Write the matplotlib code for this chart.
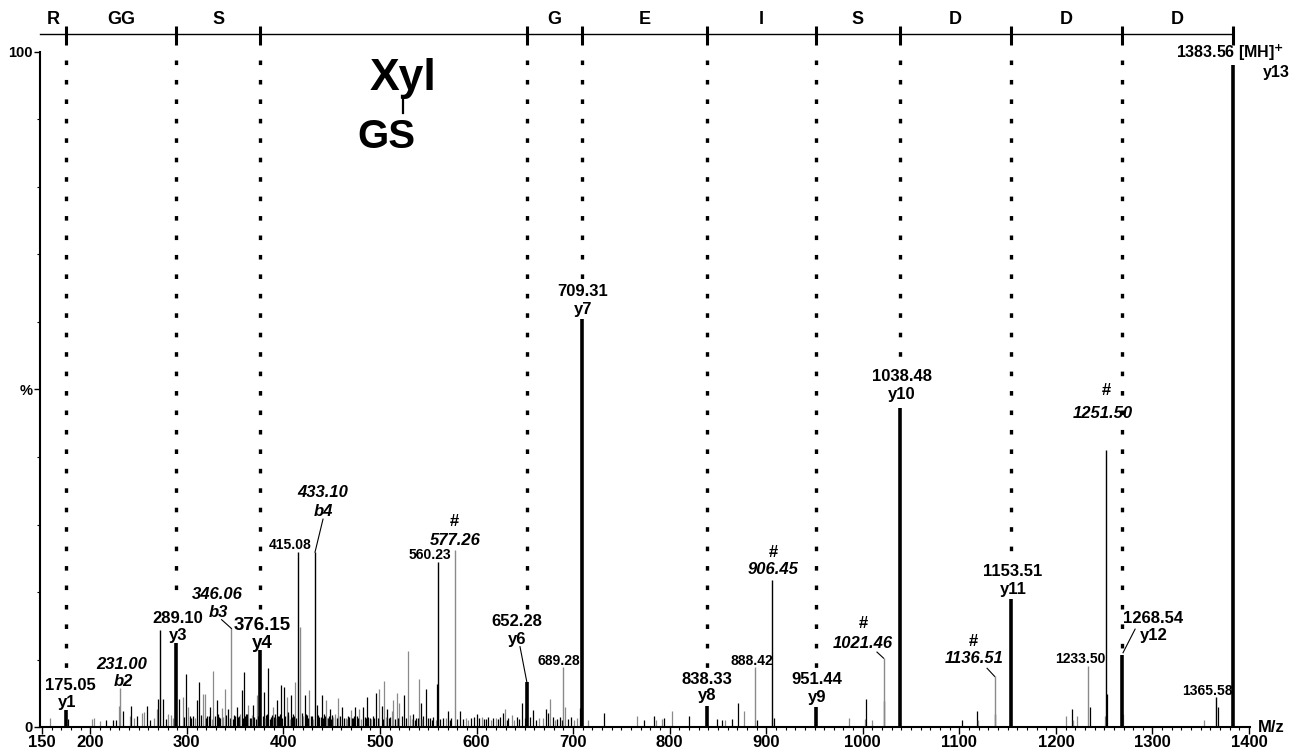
import matplotlib
matplotlib.use('Agg')
import matplotlib.pyplot as plt
from matplotlib.ticker import FixedLocator, MultipleLocator

plt.rcParams['font.family'] = ['Liberation Sans', 'DejaVu Sans']
plt.rcParams['font.weight'] = 'bold'
plt.rcParams['lines.scale_dashes'] = False

# y-ion series (thick bars, sequence boundaries)
ion_mz = [175.05, 289.10, 376.15, 652.28, 709.31, 838.33, 951.44, 1038.48, 1153.51, 1268.54, 1383.56]
ion_int = [2.5, 12.4, 11.4, 6.6, 60.4, 3.1, 3.0, 47.3, 19.0, 10.7, 98.0]
ion_names = ['y1', 'y3', 'y4', 'y6', 'y7', 'y8', 'y9', 'y10', 'y11', 'y12', 'y13']
# where each dotted guide stops (%)
dot_end = [8.6, 20.3, 17.5, 17.3, 66.4, 8.6, 8.6, 54.8, 26.1, 11.4]

residues = ['R', 'GG', 'S', '', 'G', 'E', 'I', 'S', 'D', 'D', 'D']

# other annotated peaks: m/z, intensity, grey?
peak_mz = [231.00, 272.2, 346.06, 415.08, 417.0, 433.10, 560.23, 577.26, 689.28,
           888.42, 906.45, 1021.46, 1136.51, 1233.50, 1251.50, 1365.58]
peak_int = [5.8, 14.3, 14.7, 26.0, 14.8, 25.9, 24.4, 26.2, 8.9,
            8.9, 21.8, 10.2, 7.5, 9.0, 41.0, 4.4]
peak_grey = [1, 0, 1, 0, 1, 0, 0, 1, 1,
             1, 0, 1, 1, 1, 0, 0]

# small background peaks
noise_mz = [158.3, 201.5, 203.9, 216.3, 223.2, 229.7, 234.2, 241.0, 242.5, 248.0,
            253.2, 256.0, 259.0, 268.8, 270.5, 275.6, 280.8, 283.3, 286.0, 292.2,
            295.7, 299.1, 301.5, 304.2, 306.8, 310.2, 312.9, 316.4, 318.8, 321.3,
            324.0, 327.4, 330.9, 333.2, 336.1, 339.5, 342.9, 348.6, 351.6, 354.1,
            356.8, 359.2, 361.5, 363.7, 366.2, 368.8, 372.3, 374.4, 380.0, 382.1,
            384.4, 387.0, 389.6, 391.5, 393.7, 395.4, 397.5, 400.6, 403.4, 405.1,
            407.6, 409.8, 412.0, 419.3, 422.4, 424.2, 426.8, 429.5, 435.0, 437.1,
            439.6, 441.9, 444.1, 446.0, 448.3, 450.0, 453.4, 456.2, 456.9, 461.0,
            464.8, 467.1, 469.7, 472.0, 474.2, 476.3, 478.6, 482.8, 484.5, 486.3,
            489.7, 492.8, 495.9, 499.3, 501.8, 504.2, 507.6, 510.1, 512.2, 513.8,
            517.3, 520.0, 522.6, 524.9, 528.7, 531.1, 534.5, 537.2, 540.7, 542.2,
            545.0, 547.7, 551.8, 555.1, 558.0, 559.4, 565.6, 570.8, 574.0, 582.9,
            586.2, 589.1, 594.3, 597.0, 600.8, 605.4, 609.8, 612.2, 617.0, 620.2,
            624.4, 627.7, 629.5, 633.0, 636.4, 641.6, 646.8, 649.9, 655.4, 658.2,
            665.1, 668.5, 671.9, 674.4, 676.1, 678.9, 683.0, 686.5, 691.6, 697.5,
            704.4, 707.2, 715.8, 732.3, 765.9, 773.9, 784.2, 786.0, 791.7, 794.5,
            802.1, 820.1, 848.7, 853.9, 857.5, 865.0, 871.1, 877.0, 890.5, 905.7,
            908.5, 985.8, 1002.5, 1003.1, 1009.2, 1021.9, 1102.4, 1117.9, 1119.3, 1137.2,
            1210.5, 1216.4, 1217.5, 1222.2, 1235.3, 1250.9, 1253.3, 1269.6, 1353.7, 1367.5,
            1382.0,
            # dense low-level comb
            177.2, 210.4, 226.8, 245.1, 262.3, 265.7, 278.1, 297.4, 303.1, 308.3,
            314.6, 320.2, 322.7, 326.1, 329.0, 332.1, 334.6, 337.8, 341.0, 344.7,
            347.9, 350.3, 353.0, 355.4, 358.0, 360.4, 362.6, 365.1, 367.4, 370.0,
            371.2, 373.5, 378.6, 381.0, 383.3, 385.8, 388.2, 390.6, 392.6, 394.5,
            396.3, 398.8, 401.9, 404.3, 406.3, 408.7, 410.9, 413.3, 420.6, 423.3,
            425.4, 428.1, 430.7, 436.2, 438.4, 440.7, 443.0, 445.1, 447.2, 449.1,
            451.6, 455.0, 458.6, 463.0, 466.0, 468.4, 470.9, 473.1, 477.5, 480.6,
            485.4, 488.0, 491.0, 494.2, 497.6, 503.0, 506.0, 509.0, 515.6, 519.0,
            526.8, 533.0, 536.0, 539.0, 544.0, 549.6, 553.5, 562.0, 568.4, 572.7,
            580.0, 591.6, 603.0, 607.2, 614.8, 622.3, 631.2, 638.9, 644.2, 662.0,
            681.0, 688.0, 694.5, 700.6]
noise_int = [1.3, 1.2, 1.4, 1.1, 1.0, 3.1, 2.4, 1.6, 3.1, 1.6,
             2.1, 2.2, 3.1, 2.6, 4.2, 4.1, 2.0, 1.8, 1.3, 4.1,
             4.5, 7.9, 3.0, 1.4, 1.7, 4.0, 6.7, 4.9, 4.9, 1.6,
             3.0, 8.3, 4.0, 1.5, 2.8, 5.7, 2.6, 1.8, 3.0, 1.6,
             5.5, 8.1, 1.9, 3.3, 1.4, 3.3, 4.8, 1.7, 5.2, 1.8,
             8.8, 1.5, 3.0, 1.9, 4.0, 1.6, 6.2, 6.0, 4.5, 2.2,
             4.7, 1.9, 6.7, 2.1, 4.7, 1.8, 5.5, 1.6, 3.3, 1.5,
             4.8, 1.9, 4.0, 1.4, 2.6, 1.8, 1.9, 1.6, 4.3, 3.0,
             1.3, 1.6, 2.5, 1.4, 3.0, 1.7, 2.7, 3.0, 1.5, 4.5,
             1.3, 1.7, 5.0, 5.7, 3.1, 6.8, 2.7, 1.5, 2.4, 4.0,
             5.1, 3.6, 1.6, 4.7, 11.3, 1.8, 2.0, 1.4, 7.1, 3.6,
             1.6, 5.7, 1.3, 1.5, 1.0, 6.3, 1.3, 2.3, 1.4, 2.3,
             1.2, 1.3, 1.3, 1.5, 2.0, 1.5, 1.2, 1.5, 1.3, 1.3,
             1.5, 2.1, 2.7, 1.4, 1.8, 1.5, 3.5, 1.3, 1.5, 2.5,
             1.3, 1.3, 2.6, 2.1, 4.1, 1.5, 1.2, 1.5, 3.0, 1.5,
             1.3, 2.8, 1.1, 2.1, 1.7, 1.1, 1.7, 1.1, 1.2, 1.3,
             2.3, 1.6, 1.2, 1.1, 1.1, 1.2, 3.6, 2.4, 1.1, 1.1,
             1.3, 1.3, 1.2, 4.2, 1.1, 3.9, 1.1, 2.3, 1.1, 1.9,
             1.6, 2.6, 1.0, 1.6, 3.0, 1.6, 4.9, 1.9, 1.1, 3.0,
             1.0,
             1.2, 0.9, 1.1, 1.3, 1.0, 1.4, 1.2, 1.5, 1.6, 1.3,
             1.8, 1.4, 1.7, 1.2, 1.6, 1.9, 1.3, 1.5, 1.8, 1.4,
             1.2, 1.7, 1.5, 1.9, 1.4, 1.6, 2.0, 1.3, 1.8, 1.5,
             1.2, 1.7, 1.6, 1.4, 1.9, 1.2, 1.8, 1.5, 1.3, 1.7,
             1.9, 1.4, 1.6, 1.8, 1.2, 1.5, 1.7, 1.3, 1.6, 1.9,
             1.4, 1.7, 1.2, 1.8, 1.5, 1.3, 1.6, 1.4, 1.7, 1.2,
             1.5, 1.3, 1.6, 1.4, 1.2, 1.5, 1.3, 1.6, 1.4, 1.2,
             1.3, 1.5, 1.2, 1.4, 1.3, 1.2, 1.5, 1.3, 1.2, 1.4,
             1.3, 1.2, 1.1, 1.3, 1.2, 1.4, 1.1, 1.2, 1.3, 1.1,
             1.2, 1.1, 1.3, 1.2, 1.1, 1.2, 1.0, 1.1, 1.2, 1.1,
             1.1, 1.0, 1.2, 1.1]
noise_grey = [1, 1, 1, 0, 0, 1, 0, 1, 0, 0,
              1, 1, 0, 1, 0, 0, 1, 1, 1, 0,
              1, 0, 1, 0, 0, 0, 0, 1, 1, 0,
              0, 1, 0, 0, 1, 1, 0, 0, 0, 0,
              0, 0, 0, 1, 0, 0, 1, 0, 0, 0,
              0, 0, 1, 0, 0, 0, 0, 0, 1, 0,
              0, 0, 1, 0, 0, 0, 1, 0, 0, 0,
              0, 0, 1, 0, 0, 0, 1, 0, 1, 0,
              1, 0, 1, 0, 0, 0, 1, 0, 0, 0,
              0, 0, 0, 1, 0, 1, 0, 0, 1, 1,
              1, 1, 0, 0, 1, 1, 0, 0, 1, 0,
              0, 0, 0, 0, 1, 0, 0, 0, 0, 0,
              0, 1, 0, 0, 0, 1, 0, 0, 0, 1,
              0, 0, 1, 0, 1, 0, 0, 0, 0, 0,
              1, 1, 0, 0, 1, 0, 0, 0, 1, 0,
              1, 0, 1, 0, 1, 0, 0, 1, 1, 0,
              1, 0, 0, 0, 1, 0, 0, 1, 0, 1,
              0, 1, 1, 0, 1, 0, 0, 0, 1, 0,
              1, 0, 1, 1, 0, 1, 0, 1, 1, 0,
              1,
              0, 1, 0, 1, 0, 1, 0, 0, 0, 1,
              0, 0, 0, 1, 0, 0, 0, 1, 0, 0,
              0, 0, 0, 1, 0, 0, 0, 0, 1, 0,
              0, 0, 0, 1, 0, 0, 0, 0, 1, 0,
              0, 0, 0, 0, 1, 0, 0, 0, 1, 0,
              0, 0, 1, 0, 0, 0, 0, 1, 0, 0,
              1, 0, 0, 0, 1, 0, 0, 0, 0, 1,
              0, 0, 1, 0, 0, 0, 1, 0, 0, 0,
              0, 1, 0, 0, 1, 0, 0, 0, 1, 0,
              0, 1, 0, 0, 1, 0, 0, 1, 0, 0,
              1, 0, 0, 1]

GREY = '#8a8a8a'

fig = plt.figure(figsize=(13.02, 7.54), dpi=100)
W, H = 1302.0, 754.0
ax = fig.add_axes([40 / W, (H - 727) / H, (1250 - 40) / W, (727 - 52) / H])
ax.set_xlim(147.9, 1401.0)
ax.set_ylim(0, 100)

# background peaks
ax.vlines(noise_mz, 0, noise_int, colors=[GREY if g else 'black' for g in noise_grey],
          linewidth=0.9)
ax.vlines(peak_mz, 0, peak_int, colors=[GREY if g else 'black' for g in peak_grey],
          linewidth=1.0)
ax.vlines(ion_mz, 0, ion_int, colors='black', linewidth=2.6)

# dotted sequence guides
for mz, top in zip(ion_mz[:-1], dot_end):
    ax.plot([mz, mz], [98.8, top], color='black', lw=2.4, dashes=(3.3, 10.7),
            dash_capstyle='butt', clip_on=False)

# sequence bar on top
left_edge = 147.9
ax.plot([left_edge, ion_mz[-1]], [102.7, 102.7], color='black', lw=1.0, clip_on=False)
for mz in ion_mz:
    ax.plot([mz, mz], [101.0, 103.8], color='black', lw=2.2, clip_on=False,
            solid_capstyle='butt')
bounds = [left_edge] + ion_mz
for i, r in enumerate(residues):
    if r:
        ax.text((bounds[i] + bounds[i + 1]) / 2, 104.8, r, ha='center', va='center',
                fontsize=13, fontweight='bold', clip_on=False)

# glycan
ax.text(523.9, 94.4, 'Xyl', ha='center', va='baseline', fontsize=32, fontweight='bold')
ax.plot([523.9, 523.9], [90.9, 93.0], color='black', lw=1.6)
ax.text(506.3, 85.8, 'GS', ha='center', va='baseline', fontsize=29, fontweight='bold')

# ion labels
ion_label_pos = [(179.0, 6.2, 175.9, 3.7), (290.8, 16.1, 290.8, 13.5),
                 (377.8, 15.0, 377.8, 12.3), (641.9, 15.6, 641.9, 13.0),
                 (710.3, 64.5, 710.3, 61.9), (838.7, 7.1, 838.7, 4.6),
                 (952.6, 7.0, 952.6, 4.4), (1040.6, 51.9, 1040.6, 49.2),
                 (1155.6, 23.0, 1155.6, 20.4), (1300.6, 16.1, 1301.6, 13.5)]
for k, (x1, y1, x2, y2) in enumerate(ion_label_pos):
    fs = 13.5 if ion_names[k] == 'y4' else 12
    ax.text(x1, y1, '%.2f' % ion_mz[k], ha='center', va='center', fontsize=fs)
    ax.text(x2, y2, ion_names[k], ha='center', va='center', fontsize=fs)

ax.text(1380.3, 99.9, '1383.56 [MH]$^{\\mathbf{+}}$', ha='center', va='center',
        fontsize=11.5, clip_on=False)
ax.text(1442.4, 97.0, 'y13', ha='right', va='center', fontsize=11.5, clip_on=False)

# b ions (italic)
b_labels = [('231.00', 'b2', 232.9, 9.3, 233.9, 6.8),
            ('346.06', 'b3', 331.2, 19.6, 332.3, 16.9),
            ('433.10', 'b4', 441.0, 34.7, 441.0, 32.0)]
for a, b, x1, y1, x2, y2 in b_labels:
    ax.text(x1, y1, a, ha='center', va='center', fontsize=12, style='italic')
    ax.text(x2, y2, b, ha='center', va='center', fontsize=12, style='italic')

# '#' labelled peaks
hash_labels = [('577.26', 576.7, 30.4, 577.7, 27.7),
               ('906.45', 907.0, 25.9, 907.0, 23.3),
               ('1021.46', 1000.3, 15.4, 1000.3, 12.4),
               ('1136.51', 1114.2, 12.6, 1115.2, 10.1),
               ('1251.50', 1251.9, 49.9, 1248.8, 46.5)]
for t, xh, yh, xt, yt in hash_labels:
    ax.text(xh, yh, '#', ha='center', va='center', fontsize=12)
    ax.text(xt, yt, t, ha='center', va='center', fontsize=12, style='italic')

# small plain labels
small_labels = [('415.08', 406.8, 27.0), ('560.23', 551.8, 25.5), ('689.28', 685.4, 9.8),
                ('888.42', 885.3, 9.8), ('1233.50', 1225.0, 10.1), ('1365.58', 1356.5, 5.3)]
for t, x, y in small_labels:
    ax.text(x, y, t, ha='center', va='center', fontsize=10)

# leader lines
leaders = [((336.0, 15.9), (346.1, 14.6)), ((441.0, 30.8), (432.7, 25.9)),
           ((645.0, 11.9), (652.3, 6.5)), ((1014.7, 11.1), (1021.5, 10.2)),
           ((1128.7, 8.7), (1136.5, 7.5)), ((1282.0, 14.5), (1269.5, 11.0))]
for (xa, ya), (xb, yb) in leaders:
    ax.plot([xa, xb], [ya, yb], color='black', lw=0.8)

# axes styling
for s in ['top', 'right']:
    ax.spines[s].set_visible(False)
ax.spines['left'].set_linewidth(1.5)
ax.spines['bottom'].set_linewidth(1.5)

ax.xaxis.set_major_locator(FixedLocator([150] + list(range(200, 1401, 100))))
ax.xaxis.set_minor_locator(MultipleLocator(10))
ax.tick_params(axis='x', which='major', length=5, width=1.0, labelsize=12, pad=1)
ax.tick_params(axis='x', which='minor', length=2.5, width=0.8)
ax.set_xticklabels(['150'] + [str(v) for v in range(200, 1401, 100)], fontweight='bold')

ax.yaxis.set_major_locator(FixedLocator([0, 50, 100]))
ax.yaxis.set_minor_locator(MultipleLocator(10))
ax.set_yticklabels(['0', '%', '100'], fontweight='bold')
ax.tick_params(axis='y', which='major', length=4, width=1.0, labelsize=10.5, pad=1)
ax.tick_params(axis='y', which='minor', length=2, width=0.8)

ax.text(1409.3, 0, 'M/z', ha='left', va='center', fontsize=12, clip_on=False)

fig.savefig('out.png', dpi=100)
